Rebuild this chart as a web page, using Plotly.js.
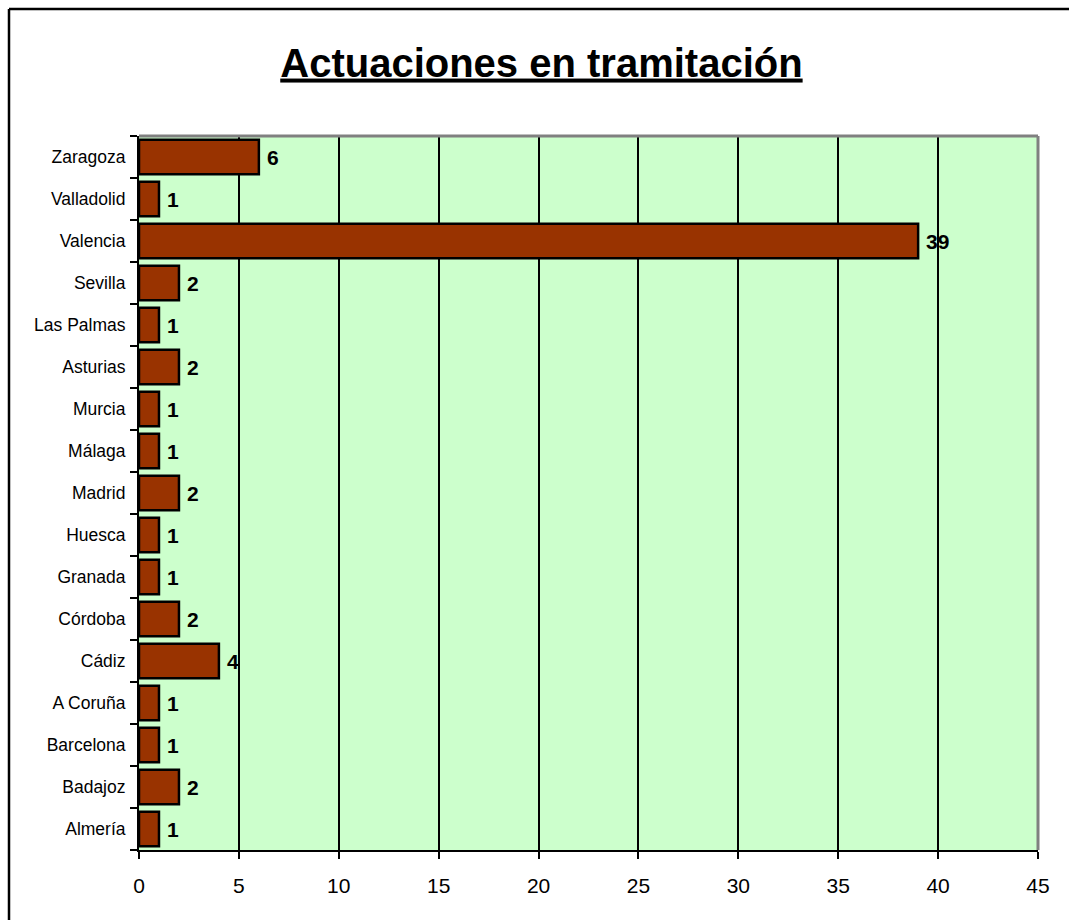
<!DOCTYPE html>
<html>
<head>
<meta charset="utf-8">
<script src="https://cdn.plot.ly/plotly-3.0.1.min.js"></script>
<style>
html,body{margin:0;padding:0;background:#fff;overflow:hidden;width:1069px;height:920px;}
#chart{position:absolute;left:0;top:0;width:1069px;height:920px;}
</style>
</head>
<body>
<div id="chart"></div>
<script>
const categories = ["Almería","Badajoz","Barcelona","A Coruña","Cádiz","Córdoba","Granada","Huesca","Madrid","Málaga","Murcia","Asturias","Las Palmas","Sevilla","Valencia","Valladolid","Zaragoza"];
const values = [1,2,1,1,4,2,1,1,2,1,1,2,1,2,39,1,6];
const xTicks = [0,5,10,15,20,25,30,35,40,45];

const FONT = 'Arial, Liberation Sans, sans-serif';

const trace = {
  type: 'bar',
  orientation: 'h',
  x: values,
  y: categories,
  marker: {color: '#993300', line: {color: '#000000', width: 2.5}},
  hoverinfo: 'none'
};

const annotations = values.map((v, i) => ({
  x: v, y: categories[i], xref: 'x', yref: 'y',
  text: '<b>' + v + '</b>', showarrow: false,
  xanchor: 'left', xshift: 6, yshift: 0,
  font: {family: FONT, size: 21, color: '#000'}
}));

// plot area geometry (for the outer frame drawn in paper coords)
const W = 1069, H = 920, mL = 139, mR = 31, mT = 136, mB = 70;
const pw = W - mL - mR, ph = H - mT - mB;
const fx0 = (9 - mL) / pw, fy1 = (H - mB - 9) / ph;

const layout = {
  width: W, height: H,
  paper_bgcolor: '#ffffff',
  plot_bgcolor: '#CCFFCC',
  margin: {l: mL, r: mR, t: mT, b: mB, pad: 0},
  showlegend: false,
  bargap: 0.18,
  title: {
    text: '<b><u>Actuaciones en tramitación</u></b>',
    x: 0.5065, xanchor: 'center', y: 0.932, yanchor: 'middle',
    font: {family: FONT, size: 40, color: '#000'}
  },
  xaxis: {
    range: [0, 45], tickvals: xTicks, ticktext: xTicks.map(String),
    showgrid: true, gridcolor: '#000', gridwidth: 2,
    showline: true, linecolor: '#000', linewidth: 2,
    ticks: 'outside', ticklen: 7, tickwidth: 2, tickcolor: '#000',
    ticklabelstandoff: 9,
    zeroline: false,
    tickfont: {family: FONT, size: 21, color: '#000'},
    fixedrange: true
  },
  yaxis: {
    type: 'category', categoryorder: 'array', categoryarray: categories,
    showgrid: false, showline: true, linecolor: '#000', linewidth: 2,
    ticks: 'outside', ticklen: 7, tickwidth: 2, tickcolor: '#000',
    tickson: 'boundaries',
    ticklabelstandoff: 8,
    tickfont: {family: FONT, size: 17.5, color: '#000'},
    fixedrange: true
  },
  shapes: [
    {type: 'line', xref: 'paper', yref: 'paper', x0: 0, x1: 1, y0: 1, y1: 1, line: {color: '#808080', width: 3}},
    {type: 'line', xref: 'paper', yref: 'paper', x0: 1, x1: 1, y0: 0, y1: 1, line: {color: '#808080', width: 3}},
    {type: 'line', xref: 'paper', yref: 'paper', x0: fx0, x1: 1.3, y0: fy1, y1: fy1, line: {color: '#000', width: 2.5}},
    {type: 'line', xref: 'paper', yref: 'paper', x0: fx0, x1: fx0, y0: -0.3, y1: fy1, line: {color: '#000', width: 2.5}}
  ],
  annotations: annotations
};

Plotly.newPlot('chart', [trace], layout, {displayModeBar: false, staticPlot: true});
</script>
</body>
</html>
